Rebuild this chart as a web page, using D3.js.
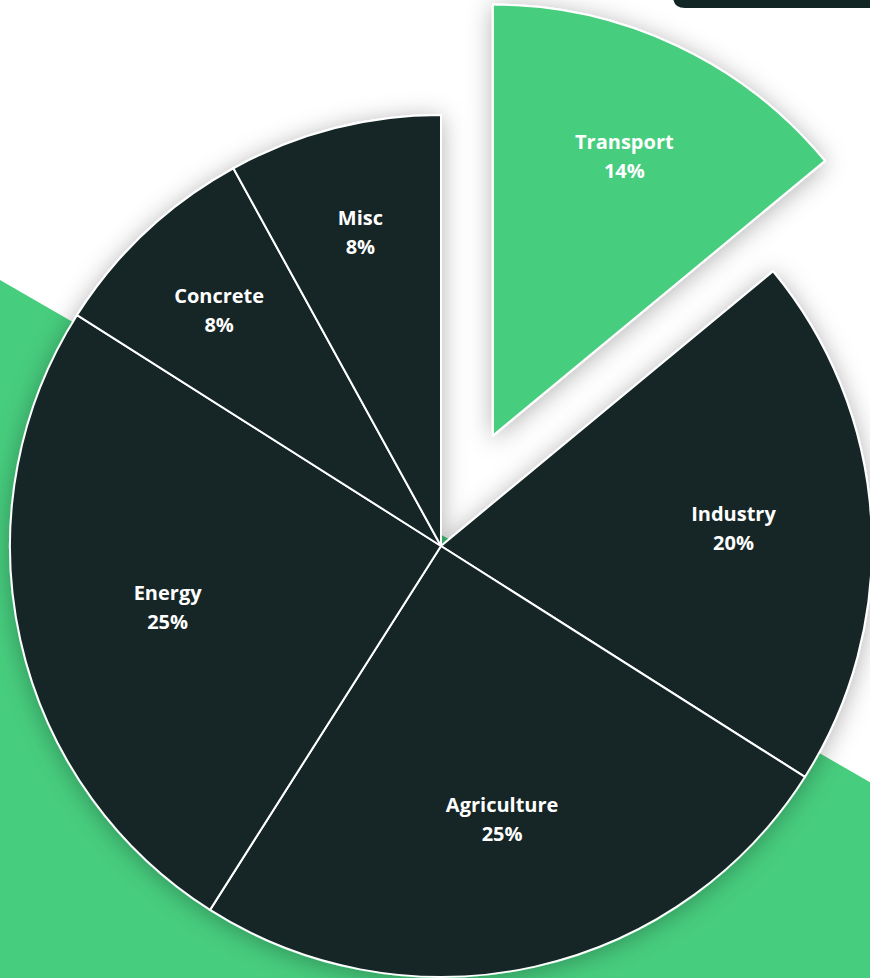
<!DOCTYPE html>
<html lang="en">
  <head>
    <meta charset="utf-8">
    <title>Emissions by sector</title>
    <script src="https://cdnjs.cloudflare.com/ajax/libs/d3/7.8.5/d3.min.js"></script>
    <style>
      body { margin: 0; background: #fff; overflow: hidden; }
      svg { display: block; }
      .label { font-family: "Open Sans", sans-serif; font-weight: 700; font-size: 20px; fill: #fff; }
    </style>
  </head>
  <body>
    <svg id="chart" width="870" height="978"></svg>

    <script type="text/javascript">
      // chart data
      var sectors = ["Transport", "Industry", "Agriculture", "Energy", "Concrete", "Misc"];
      var shares = [14, 20, 25, 25, 8, 8];
      var exploded = ["Transport"];

      var dark = "#122625";
      var green = "#47cd7e";

      var svg = d3.select("#chart");
      var width = 870, height = 978;
      var cx = 441, cy = 546, radius = 431, explodeBy = 122;

      // background decoration: green band below a 30 degree line, dark tab top right
      var slope = Math.tan(30 * Math.PI / 180);
      svg.append("path")
        .attr("d", "M0,280L" + width + "," + (280 + slope * width) + "L" + width + "," + height + "L0," + height + "Z")
        .attr("fill", green);
      svg.append("path")
        .attr("d", "M673,-10H870V8H685Q673,8 673,-4Z")
        .attr("fill", dark);

      var defs = svg.append("defs");
      var filter = defs.append("filter").attr("id", "shadow")
        .attr("x", "-20%").attr("y", "-20%").attr("width", "140%").attr("height", "140%");
      filter.append("feDropShadow")
        .attr("dx", 0).attr("dy", 3)
        .attr("stdDeviation", 12)
        .attr("flood-color", "#000")
        .attr("flood-opacity", 0.3);

      var data = sectors.map(function(s, i) { return { name: s, value: shares[i] }; });

      var pie = d3.pie().sort(null).value(function(d) { return d.value; });
      var arc = d3.arc().innerRadius(0).outerRadius(radius);
      var arcs = pie(data);

      var total = d3.sum(shares);

      var g = svg.append("g")
        .attr("transform", "translate(" + cx + "," + cy + ")")
        .attr("filter", "url(#shadow)");

      function offset(d) {
        if (exploded.indexOf(d.data.name) < 0) return [0, 0];
        var a = (d.startAngle + d.endAngle) / 2;
        return [Math.sin(a) * explodeBy, -Math.cos(a) * explodeBy];
      }

      g.selectAll("path.slice").data(arcs).enter().append("path")
        .attr("class", "slice")
        .attr("d", arc)
        .attr("transform", function(d) { var o = offset(d); return "translate(" + o[0] + "," + o[1] + ")"; })
        .attr("fill", function(d) { return exploded.indexOf(d.data.name) >= 0 ? green : dark; })
        .attr("stroke", "#fff")
        .attr("stroke-width", 2)
        .attr("stroke-linejoin", "round");

      // labels: smaller slices get pushed a bit further out
      var labels = svg.append("g").attr("transform", "translate(" + cx + "," + cy + ")");
      var lab = labels.selectAll("g.lab").data(arcs).enter().append("g")
        .attr("class", "lab")
        .attr("transform", function(d) {
          var o = offset(d);
          var a = (d.startAngle + d.endAngle) / 2;
          var r = radius * (0.80 - 0.6 * d.data.value / total);
          return "translate(" + (o[0] + Math.sin(a) * r) + "," + (o[1] - Math.cos(a) * r) + ")";
        });

      lab.append("text").attr("class", "label")
        .attr("text-anchor", "middle")
        .attr("y", -7)
        .text(function(d) { return d.data.name; });
      lab.append("text").attr("class", "label")
        .attr("text-anchor", "middle")
        .attr("y", 22)
        .text(function(d) { return d.data.value + "%"; });
    </script>
  </body>
</html>
